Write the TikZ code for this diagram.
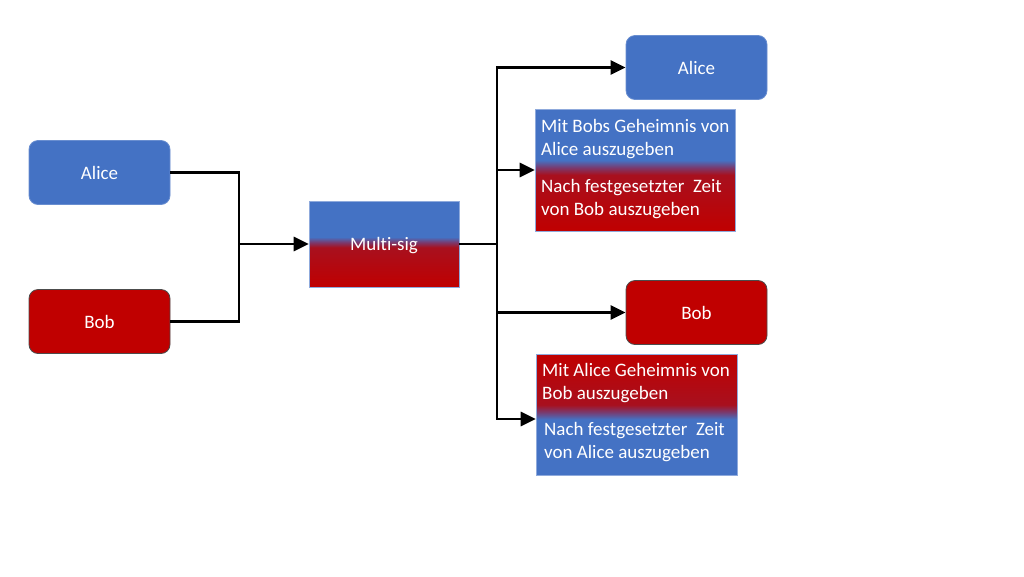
\documentclass[tikz,border=0pt]{standalone}
\usepackage{fontspec}
\setmainfont{Carlito}[Ligatures={NoCommon,NoContextual}]
\usetikzlibrary{arrows.meta, calc}

\definecolor{aliceblue}{HTML}{4472C4}
\definecolor{bobred}{HTML}{C00000}
\definecolor{bobdark}{HTML}{A8101E}
\definecolor{mixcol}{HTML}{7A3A6E}

\pgfdeclareverticalshading{bluetored}{100bp}{color(0bp)=(bobred); color(25bp)=(bobred); color(48bp)=(bobdark); color(51bp)=(mixcol); color(54bp)=(aliceblue); color(75bp)=(aliceblue); color(100bp)=(aliceblue)}
\pgfdeclareverticalshading{redtoblue}{100bp}{color(0bp)=(aliceblue); color(25bp)=(aliceblue); color(48bp)=(aliceblue); color(51bp)=(mixcol); color(54bp)=(bobdark); color(75bp)=(bobred); color(100bp)=(bobred)}

\tikzset{
  party/.style={rounded corners=9pt, minimum width=141pt, minimum height=64pt, inner sep=0pt, text=white, font=\fontsize{19}{23}\selectfont},
  alicebox/.style={party, fill=aliceblue, draw=aliceblue!80!white, line width=0.8pt},
  bobbox/.style={party, fill=bobred, draw=black!70, line width=0.8pt},
  gradbox/.style={shade, draw=aliceblue!60!white, line width=0.6pt, inner sep=0pt, text=white, font=\fontsize{19}{23}\selectfont},
  boxtext/.style={anchor=west, align=left, inner sep=0pt, text=white, font=\fontsize{19}{23}\selectfont},
  wire/.style={line width=2.8pt, -{Triangle[length=15pt,width=14pt]}},
  plainwire/.style={line width=2.8pt}
}

\begin{document}
\begin{tikzpicture}[x=1pt, y=-1pt]
      \useasboundingbox (0,0) rectangle (1024,576);

      \node [alicebox] (alice) at (99.5,172.5) {Alice};
      \node [bobbox] (bob) at (99.5,321.5) {Bob};

      \node [gradbox, shading=bluetored, minimum width=150pt, minimum height=86pt, text depth=0pt] (multisig) at (384,244) {Multi-sig};

      \node [alicebox] (alicegets) at (696.5,67.5) {Alice};
      \node [bobbox] (bobgets) at (696.5,312.5) {Bob};

      \node [gradbox, shading=bluetored, minimum width=200pt, minimum height=122pt] (aliceopt) at (635,170) {};
      \node [boxtext] (aliceopta) at (541,139) {Mit Bobs Geheimnis von\\Alice auszugeben};
      \node [boxtext] (aliceoptb) at (541,199) {Nach festgesetzter~ Zeit\\von Bob auszugeben};

      \node [gradbox, shading=redtoblue, minimum width=201pt, minimum height=121pt] (bobopt) at (636.5,414.5) {};
      \node [boxtext] (bobopta) at (542,383) {Mit Alice Geheimnis von\\Bob auszugeben};
      \node [boxtext] (boboptb) at (544,442.5) {Nach festgesetzter~ Zeit\\von Alice auszugeben};

      \coordinate (join) at (239,244);
      \coordinate (split) at (497,244);
      \coordinate (boboptin) at ($(bobopt.west)+(0,4.5)$);

      \draw [plainwire] (alice.east) -| (join);
      \draw [plainwire] (bob.east) -| (join);
      \draw [wire] (join) -- (multisig.west);

      \draw [plainwire] (multisig.east) -- (split);
      \draw [wire] (split) |- (alicegets.west);
      \draw [wire] (split) |- (aliceopt.west);
      \draw [wire] (split) |- (bobgets.west);
      \draw [wire] (split) |- (boboptin);
\end{tikzpicture}
\end{document}
